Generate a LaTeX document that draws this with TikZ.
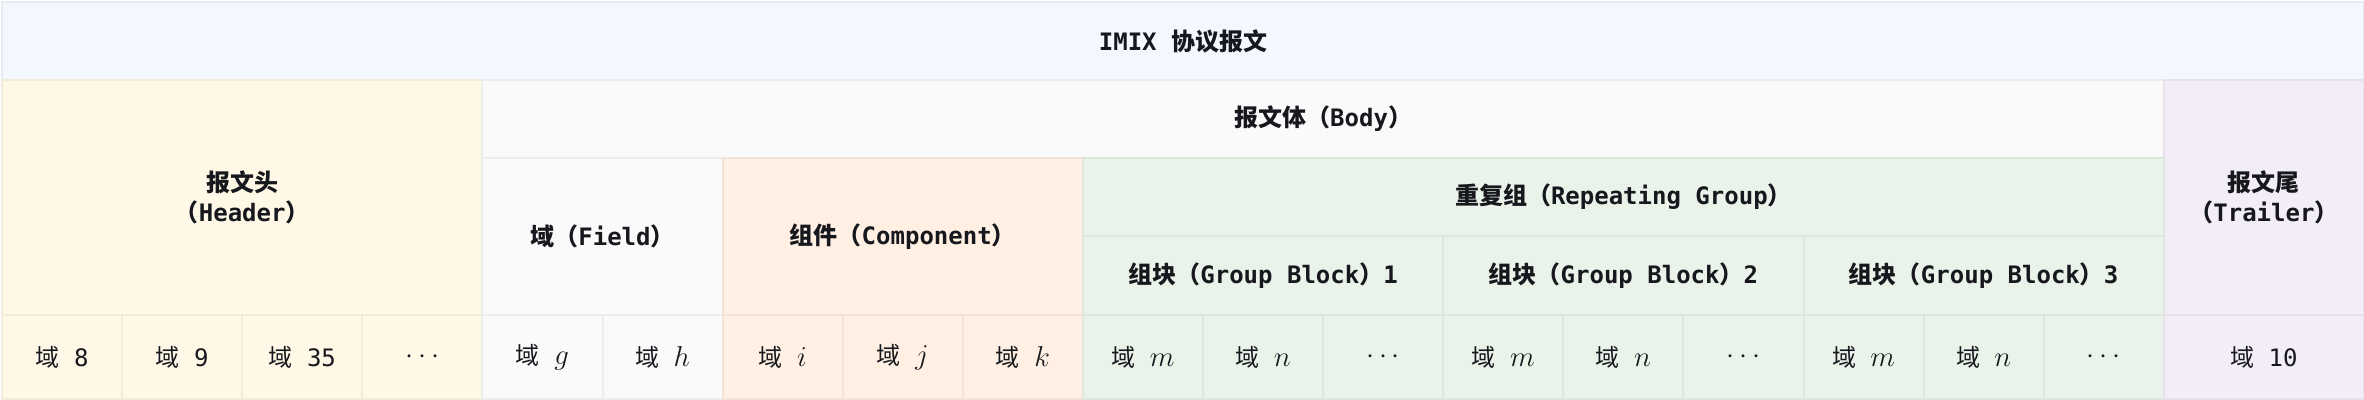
\documentclass[tikz,border=0pt]{standalone}
\usepackage{fontspec}
\setmainfont{DejaVu Sans Mono}
\newfontfamily\cjk{Noto Sans CJK SC}
\usetikzlibrary{positioning}
\definecolor{titlebg}{HTML}{F3F7FE}
\definecolor{hdbg}{HTML}{FFF8E6}
\definecolor{fdbg}{HTML}{FAFAFA}
\definecolor{cpbg}{HTML}{FFF0E3}
\definecolor{rgbg}{HTML}{EAF3EA}
\definecolor{trbg}{HTML}{F2EDF6}
\definecolor{ink}{HTML}{16181D}
\newcommand{\yu}{{\cjk 域}}
\newcommand{\lp}{{\cjk （}}
\newcommand{\rp}{{\cjk ）}}
\newcommand{\mv}[1]{{\fontsize{14.5}{15}\selectfont$#1$}}
\tikzset{
every picture/.style={
line width=1pt
},
cell/.style n args={3}{
  draw=#1!95!black, fill=#1,
  minimum width=#2, minimum height=#3,
  anchor=north west, inner sep=0pt, align=center,
  text=ink, font=\fontsize{12}{15}\selectfont\bfseries
},
fieldcell/.style n args={2}{
  cell={#1}{60.05pt}{42pt},
  font=\fontsize{12}{15}\selectfont
}
}
\begin{document}
\begin{tikzpicture}[x=0.5pt, y=-0.5pt]
\useasboundingbox (0,0) rectangle (2364,400);

\node [cell={titlebg}{1181pt}{39pt}] (msg) at (1,1) {IMIX \cjk 协议报文};

\node [cell={hdbg}{240.2pt}{117.5pt}] (hd) at (1,79) {{\cjk 报文头}\\\lp Header\rp};
\node [cell={fdbg}{840.7pt}{39pt}] (bd) at (481.4,79) {{\cjk 报文体}\lp Body\rp};
\node [cell={trbg}{100.1pt}{117.5pt}] (tr) at (2162.8,79) {{\cjk 报文尾}\\\lp Trailer\rp};

\node [cell={fdbg}{120.1pt}{78.5pt}] (fd) at (481.4,157) {\yu\lp Field\rp};
\node [cell={cpbg}{180.15pt}{78.5pt}] (cp) at (721.6,157) {{\cjk 组件}\lp Component\rp};
\node [cell={rgbg}{540.45pt}{39pt}] (rg) at (1081.9,157) {{\cjk 重复组}\lp Repeating Group\rp};
\foreach \k in {1,2,3}
  \node [cell={rgbg}{180.15pt}{39.5pt}] (gb\k) at (1081.9+360.3*\k-360.3,235) {{\cjk 组块}\lp Group Block\rp\k};

% fields
\foreach \lab/\col [count=\i from 0] in {
  {\yu{} 8}/hdbg, {\yu{} 9}/hdbg, {\yu{} 35}/hdbg, {\mv{\cdots}}/hdbg,
  {\yu{} \mv{g}}/fdbg, {\yu{} \mv{h}}/fdbg,
  {\yu{} \mv{i}}/cpbg, {\yu{} \mv{j}}/cpbg, {\yu{} \mv{k}}/cpbg,
  {\yu{} \mv{m}}/rgbg, {\yu{} \mv{n}}/rgbg, {\mv{\cdots}}/rgbg,
  {\yu{} \mv{m}}/rgbg, {\yu{} \mv{n}}/rgbg, {\mv{\cdots}}/rgbg,
  {\yu{} \mv{m}}/rgbg, {\yu{} \mv{n}}/rgbg, {\mv{\cdots}}/rgbg}
  \node [fieldcell={\col}{}] (f\i) at (1+120.1*\i,314) {\lab};
\node [fieldcell={trbg}{}, minimum width=100.1pt] (f18) at (2162.8,314) {\yu{} 10};

\end{tikzpicture}
\end{document}
